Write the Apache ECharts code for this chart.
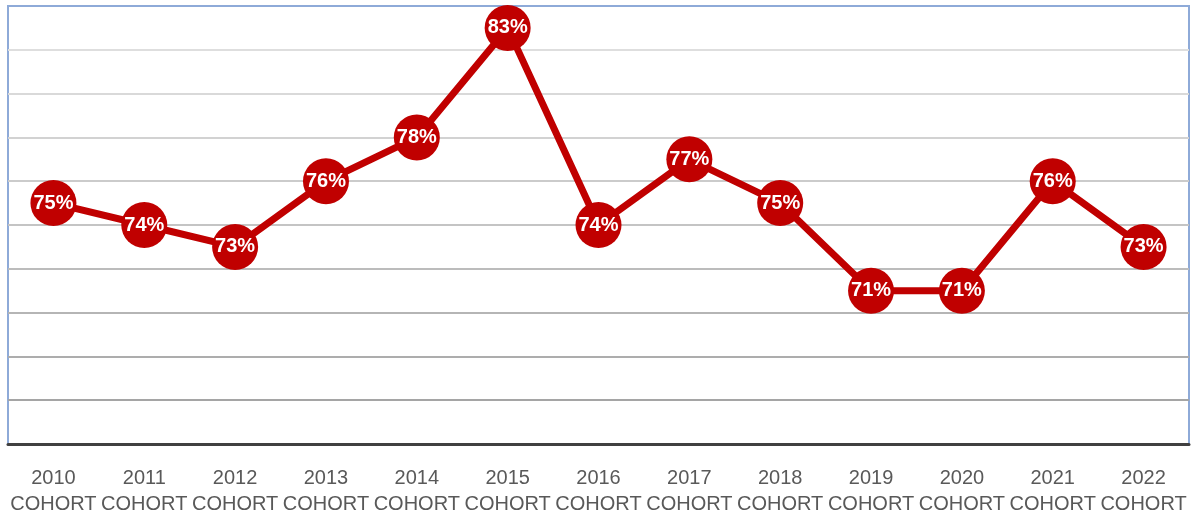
<!DOCTYPE html>
<html>
<head>
<meta charset="utf-8">
<script src="https://cdn.jsdelivr.net/npm/echarts@6/dist/echarts.min.js"></script>
<style>
html,body{margin:0;padding:0;background:#fff;}
#chart{width:1195px;height:517px;}
</style>
</head>
<body>
<div id="chart"></div>
<script>
const years = ['2010','2011','2012','2013','2014','2015','2016','2017','2018','2019','2020','2021','2022'];
const categories = years.map(y => y + '\nCOHORT');
const rates = [75, 74, 73, 76, 78, 83, 74, 77, 75, 71, 71, 76, 73];
const yMin = 64, yMax = 84, yStep = 2;
const gridColors = ['#a0a0a0','#a5a5a5','#adadad','#b5b5b5','#bcbcbc','#c4c4c4','#cbcbcb','#d2d2d2','#d9d9d9','#dedede','#8eaad8'];

const chart = echarts.init(document.getElementById('chart'));
chart.setOption({
  animation: false,
  grid: {left: 8, right: 6, top: 6, bottom: 73, show: true, borderColor: '#8eaad8', borderWidth: 2, containLabel: false},
  xAxis: {
    type: 'category',
    data: categories,
    boundaryGap: true,
    axisLine: {show: true, lineStyle: {color: '#404040', width: 3}},
    axisTick: {show: false},
    axisLabel: {color: '#595959', fontSize: 20, fontFamily: 'Liberation Sans, Arial, sans-serif', lineHeight: 26, margin: 21, interval: 0}
  },
  yAxis: {
    type: 'value',
    min: yMin, max: yMax, interval: yStep,
    axisLabel: {show: false},
    axisLine: {show: false},
    axisTick: {show: false},
    splitLine: {show: true, lineStyle: {color: gridColors, width: 2}}
  },
  series: [{
    type: 'line',
    data: rates,
    symbol: 'circle',
    symbolSize: 46,
    showAllSymbol: true,
    lineStyle: {color: '#c00000', width: 7},
    itemStyle: {color: '#c00000'},
    label: {
      show: true,
      position: 'inside',
      color: '#ffffff',
      fontSize: 20,
      fontWeight: 'bold',
      fontFamily: 'Liberation Sans, Arial, sans-serif',
      formatter: p => p.value + '%'
    },
    z: 5
  }]
});
</script>
</body>
</html>
